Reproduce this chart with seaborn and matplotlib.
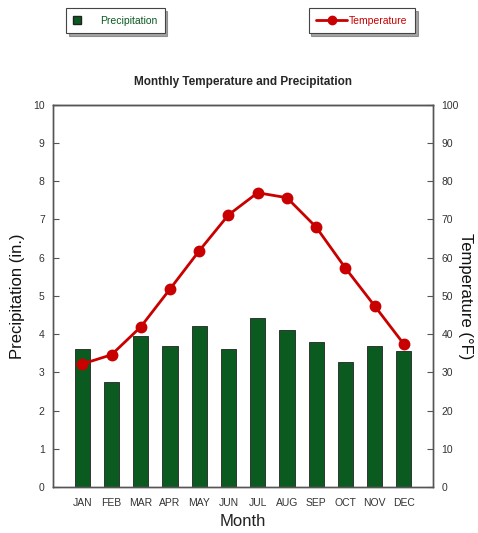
import matplotlib
matplotlib.use('Agg')
import matplotlib.pyplot as plt
import seaborn as sns
from matplotlib.patches import Patch
from matplotlib.lines import Line2D

months = ['JAN', 'FEB', 'MAR', 'APR', 'MAY', 'JUN', 'JUL', 'AUG', 'SEP', 'OCT', 'NOV', 'DEC']
precip = [3.6, 2.75, 3.95, 3.7, 4.2, 3.6, 4.42, 4.1, 3.8, 3.28, 3.7, 3.55]
temps = [32.2, 34.6, 41.9, 51.8, 61.8, 71.2, 77.0, 75.7, 68.0, 57.3, 47.4, 37.4]

green = '#0b5a1f'
red = '#c80000'

sns.set_style('white')
plt.rcParams['font.family'] = ['Liberation Sans', 'DejaVu Sans']

fig = plt.figure(figsize=(4.78, 5.33), dpi=100)
ax = fig.add_axes([0.111, 0.0863, 0.795, 0.717])

sns.barplot(x=months, y=precip, ax=ax, color=green, saturation=1,
            width=0.52, edgecolor='#222222', linewidth=0.6)
ax.set_ylim(0, 10)
ax.set_yticks(range(0, 11))
ax.set_xlim(-1, 12)

ax2 = ax.twinx()
sns.pointplot(x=months, y=temps, ax=ax2, color=red, markers='o',
              markersize=7, linewidth=2)
ax2.set_ylim(0, 100)
ax2.set_yticks(range(0, 101, 10))
ax.set_xlim(-1, 12)

for a in (ax, ax2):
    for s in a.spines.values():
        s.set_color('#555555')
        s.set_linewidth(1)
    a.tick_params(axis='y', direction='in', length=4, labelsize=7.5,
                  color='#555555', labelcolor='#333333', pad=6)
ax.tick_params(axis='x', length=0, labelsize=7.5, labelcolor='#333333', pad=8)
ax.spines['top'].set_color('#111111')

ax.set_xlabel('Month', fontsize=12, color='#222222', labelpad=4)
ax.set_ylabel('Precipitation (in.)', fontsize=12, color='#111111', labelpad=6)
ax2.set_ylabel('Temperature (°F)', fontsize=12, color='#111111',
               rotation=270, labelpad=10)
ax.set_title('Monthly Temperature and Precipitation', fontsize=8.5,
             fontweight='bold', pad=14)

leg1 = fig.legend(handles=[Patch(facecolor=green, edgecolor='#222222')],
                  labels=['Precipitation'], loc='center',
                  bbox_to_anchor=(0.241, 0.961), fontsize=7.5, labelcolor=green,
                  frameon=True, fancybox=False, shadow=True,
                  edgecolor='#444444', handlelength=0.8, handleheight=0.8,
                  borderpad=0.7, handletextpad=1.8, borderaxespad=0)
leg1.get_frame().set_linewidth(0.8)
leg2 = fig.legend(handles=[Line2D([0], [0], color=red, lw=2, marker='o', markersize=6)],
                  labels=['Temperature'], loc='center',
                  bbox_to_anchor=(0.757, 0.961), fontsize=7.5, labelcolor=red,
                  frameon=True, fancybox=False, shadow=True,
                  edgecolor='#444444', handlelength=3, borderpad=0.7,
                  handletextpad=0.2, borderaxespad=0)
leg2.get_frame().set_linewidth(0.8)

fig.savefig('out.png', dpi=100)
